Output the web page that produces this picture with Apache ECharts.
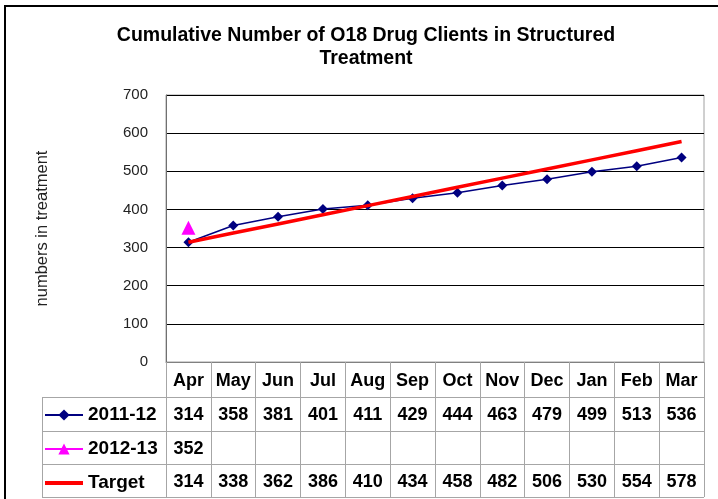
<!DOCTYPE html>
<html>
<head>
<meta charset="utf-8">
<script src="https://cdn.jsdelivr.net/npm/echarts@6/dist/echarts.min.js"></script>
<style>
    body { margin: 0; background: #fff; }
    #wrap { position: relative; width: 718px; height: 499px; }
    #chart { width: 718px; height: 499px; }
    #frame { position: absolute; left: 4px; top: 5px; width: 716px; height: 496px;
             border-left: 2px solid #000; border-top: 2px solid #000; pointer-events: none; }
</style>
</head>
<body>
<div id="wrap">
    <div id="chart"></div>
    <div id="frame"></div>
</div>
<script>
var months = ['Apr', 'May', 'Jun', 'Jul', 'Aug', 'Sep', 'Oct', 'Nov', 'Dec', 'Jan', 'Feb', 'Mar'];
var clients2011 = [314, 358, 381, 401, 411, 429, 444, 463, 479, 499, 513, 536];
var clients2012 = [352];
var target = [314, 338, 362, 386, 410, 434, 458, 482, 506, 530, 554, 578];
var yTicks = [0, 100, 200, 300, 400, 500, 600, 700];

var font = 'Liberation Sans, Arial, sans-serif';
var tableLine = '#a6a6a6';

// one hidden axis per table row, its labels are the row's values
function tableRow(values, offset) {
    return {
        type: 'category',
        data: months,
        gridIndex: 0,
        position: 'bottom',
        offset: offset,
        axisLine: {show: false},
        axisTick: {show: false},
        axisLabel: {
            interval: 0,
            margin: 9,
            fontFamily: font,
            fontSize: 18,
            fontWeight: 'bold',
            color: '#000',
            formatter: function(value, index) {
                return values[index] != null ? String(values[index]) : '';
            }
        }
    };
}

function hLine(y) {
    return {type: 'line', shape: {x1: 42, y1: y + 0.5, x2: 704, y2: y + 0.5},
            style: {stroke: tableLine, lineWidth: 1}, silent: true};
}

var chart = echarts.init(document.getElementById('chart'));

var option = {
    backgroundColor: '#fff',
    animation: false,
    legend: {
        data: [
            {name: '2011-12'},
            {name: '2012-13'},
            {name: 'Target', icon: 'path://M0,0 L38,0 L38,4 L0,4 Z', itemStyle: {color: '#ff0000'}}
        ],
        orient: 'vertical',
        left: 44,
        top: 405,
        padding: 0,
        itemWidth: 38,
        itemHeight: 14,
        itemGap: 14,
        symbolKeepAspect: true,
        textStyle: {fontFamily: font, fontSize: 19, fontWeight: 'bold', color: '#000', lineHeight: 20}
    },
    grid: {
        left: 166,
        right: 14,
        top: 95,
        bottom: 137,
        show: true,
        borderColor: '#a0a0a0',
        borderWidth: 1
    },
    xAxis: [
        {
            type: 'category',
            data: months,
            boundaryGap: true,
            axisLine: {lineStyle: {color: '#808080'}},
            axisTick: {show: true, length: 135, interval: 0, lineStyle: {color: tableLine}},
            axisLabel: {interval: 0, margin: 10, fontFamily: font, fontSize: 18, fontWeight: 'bold', color: '#000'}
        },
        tableRow(clients2011, 35),
        tableRow(clients2012, 69),
        tableRow(target, 102)
    ],
    yAxis: {
        type: 'value',
        min: yTicks[0],
        max: yTicks[yTicks.length - 1],
        interval: 100,
        name: 'numbers in treatment',
        nameLocation: 'middle',
        nameRotate: 90,
        nameGap: 115,
        nameTextStyle: {fontFamily: font, fontSize: 16.5, color: '#222'},
        axisLine: {show: true, lineStyle: {color: '#707070'}},
        axisTick: {show: false},
        axisLabel: {margin: 18, fontFamily: font, fontSize: 15, color: '#222'},
        splitLine: {lineStyle: {color: '#000', width: 1}}
    },
    graphic: [
        {
            type: 'text',
            x: 366,
            y: 24,
            silent: true,
            style: {
                text: 'Cumulative Number of O18 Drug Clients in Structured\nTreatment',
                align: 'center',
                fontFamily: font,
                fontSize: 19.5,
                fontWeight: 'bold',
                lineHeight: 23,
                fill: '#000'
            }
        },
        hLine(397), hLine(431), hLine(464), hLine(497),
        {type: 'line', shape: {x1: 42.5, y1: 397, x2: 42.5, y2: 497},
         style: {stroke: tableLine, lineWidth: 1}, silent: true}
    ],
    series: [
        {
            name: '2011-12',
            type: 'line',
            data: clients2011,
            symbol: 'diamond',
            symbolSize: 10,
            z: 2,
            lineStyle: {color: '#000080', width: 1.5},
            itemStyle: {color: '#000080'}
        },
        {
            name: '2012-13',
            type: 'line',
            data: clients2012,
            symbol: 'triangle',
            symbolSize: 14,
            z: 4,
            lineStyle: {color: '#ff00ff', width: 1.5},
            itemStyle: {color: '#ff00ff'}
        },
        {
            name: 'Target',
            type: 'line',
            data: target,
            symbol: 'none',
            z: 3,
            lineStyle: {color: '#ff0000', width: 3.5},
            itemStyle: {color: '#ff0000'}
        }
    ]
};

chart.setOption(option);
</script>
</body>
</html>
